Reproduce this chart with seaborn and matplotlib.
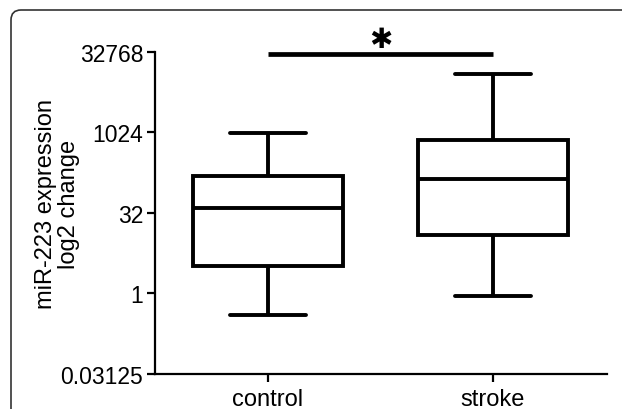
import numpy as np
import pandas as pd
import matplotlib
matplotlib.use("Agg")
import matplotlib.pyplot as plt
import seaborn as sns
from matplotlib.patches import FancyBboxPatch
from matplotlib.transforms import IdentityTransform
from matplotlib.ticker import FixedLocator, FuncFormatter

# ---- data (five-number summaries) ----
categories = ["control", "stroke"]
control_values = [0.40, 3.2, 39.7, 159, 1000]      # min, Q1, median, Q3, max
stroke_values = [0.91, 12.6, 138, 719, 12300]
y_ticks = [0.03125, 1, 32, 1024, 32768]
y_label = "miR-223 expression\nlog2 change"
sig_text = "\u2731"

df = pd.DataFrame({
    "group": [categories[0]] * len(control_values) + [categories[1]] * len(stroke_values),
    "value": control_values + stroke_values,
})

sns.set_theme(style="ticks")
plt.rcParams["font.family"] = ["Liberation Sans", "DejaVu Sans"]
plt.rcParams["text.color"] = "black"
plt.rcParams["axes.labelcolor"] = "black"

fig = plt.figure(figsize=(6.22, 4.10), dpi=100)
ax = fig.add_axes([155 / 622, 1 - 375 / 410, 452 / 622, (375 - 52.7) / 410])

sns.boxplot(data=df, x="group", y="value", order=categories, ax=ax,
            color="white", linecolor="black", linewidth=2.8, width=0.67,
            whis=(0, 100), log_scale=(False, 2), showfliers=False)

ax.set_ylim(y_ticks[0], y_ticks[-1])
ax.set_xlim(-0.502, 1.507)
ax.yaxis.set_major_locator(FixedLocator(y_ticks))
ax.yaxis.set_minor_locator(FixedLocator([]))
ax.yaxis.set_major_formatter(FuncFormatter(lambda v, p: "%g" % v))
ax.set_xlabel("")
ax.set_ylabel(y_label, fontsize=17, linespacing=1.1, color="black")
ax.yaxis.set_label_coords(-0.165, 0.53)

for s in ["top", "right"]:
    ax.spines[s].set_visible(False)
for s in ["left", "bottom"]:
    ax.spines[s].set_linewidth(1.6)
    ax.spines[s].set_color("black")
ax.tick_params(axis="both", length=5.5, width=1.6, color="black", labelcolor="black")
ax.tick_params(axis="y", labelsize=16.5, pad=3)
ax.tick_params(axis="x", labelsize=17, pad=4.5)

# significance bar
ax.plot([0, 1], [30100, 30100], color="black", lw=3.4, solid_capstyle="butt", clip_on=False)
ax.text(0.5, 57000, sig_text, ha="center", va="center", fontsize=20,
        family=["DejaVu Sans"], fontweight="bold", clip_on=False)

# rounded frame
frame = FancyBboxPatch((11, -30), 650, 429, boxstyle="round,pad=0,rounding_size=10",
                       transform=IdentityTransform(), facecolor="none",
                       edgecolor="#333333", linewidth=1.2)
fig.patches.append(frame)

fig.savefig("out.png", dpi=100, facecolor="white")
